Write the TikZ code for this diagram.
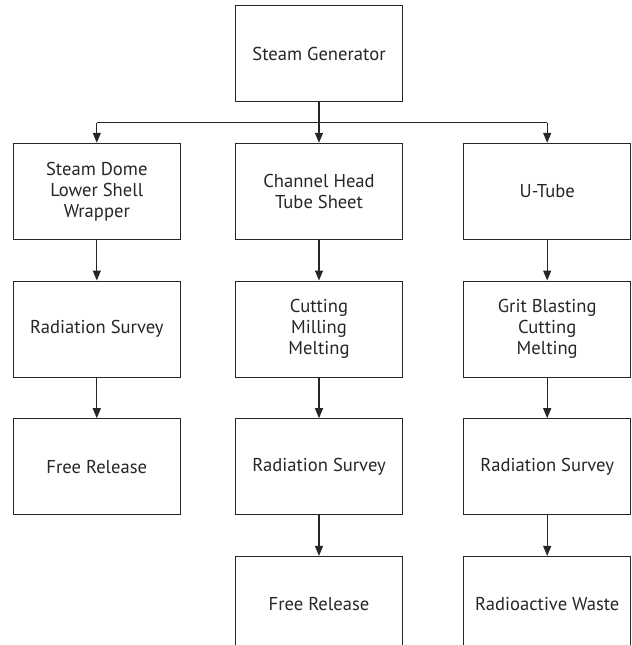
\documentclass[tikz,border=0pt]{standalone}
\usepackage{fontspec}
\setmainfont{PT Sans}
\usetikzlibrary{arrows.meta,positioning,calc}

\begin{document}
\begin{tikzpicture}[>={Triangle[width=4pt,length=5pt]},line width=0.6pt,
 box/.style={draw=black!85,text=black!85,minimum width=83.5pt,minimum height=48pt,
 inner sep=0pt,align=center,font=\fontsize{9.3}{10.5}\selectfont},
 link/.style={->,draw=black!85},
 node distance=20.25pt]
 \useasboundingbox (0,0) rectangle (316pt,-322.5pt);
 \node[box] (sg) at (159.5pt,-26.85pt) {Steam Generator};
 \node[box,below=of sg] (head) {Channel Head\\Tube Sheet};
 \node[box,left=27pt of head] (dome) {Steam Dome\\Lower Shell\\Wrapper};
 \node[box,right=30pt of head] (tube) {U-Tube};
 \node[box,below=of dome] (survL) {Radiation Survey};
 \node[box,below=of survL] (freeL) {Free Release};
 \node[box,below=of head] (cut) {Cutting\\Milling\\Melting};
 \node[box,below=of cut] (survM) {Radiation Survey};
 \node[box,below=of survM] (freeM) {Free Release};
 \node[box,below=of tube] (grit) {Grit Blasting\\Cutting\\Melting};
 \node[box,below=of grit] (survR) {Radiation Survey};
 \node[box,below=of survR] (waste) {Radioactive Waste};

 % splitting line under the generator
 \coordinate (bus) at ($(sg.south)!0.5!(head.north)$);
 \coordinate (busL) at (bus -| dome.north);
 \coordinate (busR) at (bus -| tube.north);
 \draw[black!85] (sg.south) -- (bus);
 \draw[black!85] (busL) -- (busR);
 \draw[link] (busL) -- (dome.north);
 \draw[link] (bus) -- (head.north);
 \draw[link] (busR) -- (tube.north);

 \draw[link] (dome) -- (survL);
 \draw[link] (survL) -- (freeL);
 \draw[link] (head) -- (cut);
 \draw[link] (cut) -- (survM);
 \draw[link] (survM) -- (freeM);
 \draw[link] (tube) -- (grit);
 \draw[link] (grit) -- (survR);
 \draw[link] (survR) -- (waste);
\end{tikzpicture}
\end{document}
